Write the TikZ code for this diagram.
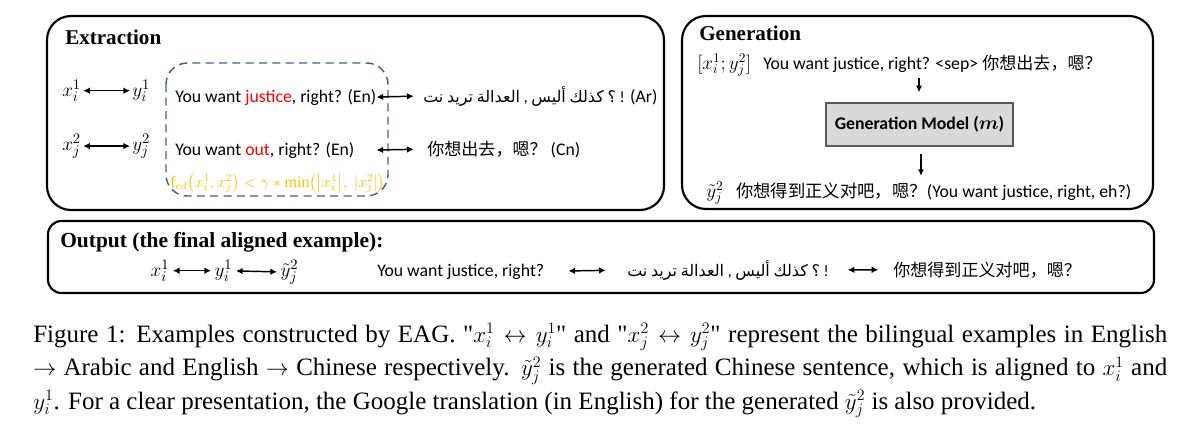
\documentclass[tikz,border=0pt]{standalone}
\usepackage{amsmath}
\usepackage{fontspec}
\setmainfont{Liberation Serif}
\newfontfamily\calib{Carlito}
\newfontfamily\cjk{Noto Sans CJK SC}
\newfontfamily\arab[Script=Arabic]{DejaVu Sans}
\usetikzlibrary{arrows.meta}
\TeXXeTstate=1
\newcommand\arw[1]{{\arab\beginR #1\endR}}
\newcommand\dq{\textquotedbl}
\definecolor{dashblue}{RGB}{68,95,150}
\definecolor{fgold}{RGB}{255,192,0}
\definecolor{boxgray}{RGB}{217,217,217}
\begin{document}
\begin{tikzpicture}[x=0.75pt,y=-0.75pt,
  frame/.style={draw=black, line width=1.6pt, rounded corners=18pt},
  title/.style={anchor=base west, inner sep=0pt, font=\fontsize{15.8}{18}\selectfont\bfseries},
  txt/.style={anchor=base west, inner sep=0pt, font=\fontsize{13.3}{16}\selectfont\calib},
  mth/.style={anchor=base west, inner sep=1.5pt, font=\fontsize{15}{18}\selectfont},
  captext/.style={anchor=base west, inner sep=0pt, font=\fontsize{18.75}{22}\selectfont},
  biarrow/.style={{Latex[length=5pt,width=5pt]}-{Latex[length=5pt,width=5pt]}, line width=1.1pt},
  darrow/.style={-{Latex[length=5pt,width=4.5pt]}, line width=1.1pt}]
\useasboundingbox (0,0) rectangle (1203,425);

% ---------------- Extraction ----------------
\draw[frame] (47,16) rectangle (664,210);
\node[title] (extt) at (65,44) {Extraction};
\node[mth] (xi1) at (60,96) {$x_i^1$};
\node[mth] (yi1) at (130,96) {$y_i^1$};
\node[mth] (xj2) at (60,150) {$x_j^2$};
\node[mth] (yj2) at (130,150) {$y_j^2$};
\draw[biarrow] (xi1) -- (yi1);
\draw[biarrow] (xj2) -- (yj2);
\draw[dashblue, line width=1.1pt, dash pattern=on 6pt off 4pt, rounded corners=16pt] (166,63) rectangle (388,196);
\node[txt] (en1) at (175,102) {You want \textcolor{red}{justice}, right? (En)};
\node[txt] (en2) at (175,155) {You want \textcolor{red}{out}, right? (En)};
\node[anchor=base west, inner sep=0pt, text=fgold, font=\fontsize{12}{14}\selectfont] (fed) at (170,187) {$\mathrm{f}_{ed}\bigl(x_i^1, x_j^2\bigr) < \gamma * \min\bigl(\bigl|x_i^1\bigr|,\ |x_j^2|\bigr)$};
\node[txt] (ar1) at (423,102) {{\fontsize{12}{14}\selectfont\arw{نت} \arw{تريد} \arw{العدالة} , \arw{أليس} \arw{كذلك} \arw{؟} !} (Ar)};
\node[txt] (cn1) at (427,155) {{\cjk\fontsize{12.8}{15}\selectfont 你想出去，嗯？} (Cn)};
\draw[biarrow, shorten >=7pt] (en1.east) -- (ar1.west);
\draw[biarrow, shorten >=10pt] (en2.east -| en1.east) -- (cn1.west);

% ---------------- Generation ----------------
\draw[frame] (682,16) rectangle (1153,209);
\node[title] (gent) at (699,40) {Generation};
\node[mth, inner sep=0pt, font=\fontsize{14}{16}\selectfont] (gin) at (697,69) {$[x_i^1; y_j^2]$};
\node[txt] (gtxt) at (763,69) {You want justice, right? <sep> {\cjk\fontsize{12.8}{15}\selectfont 你想出去，嗯？}};
\node[draw=black!65, fill=boxgray, line width=0.9pt, minimum width=187*0.75pt, minimum height=43*0.75pt, inner sep=0pt, font=\fontsize{13.3}{16}\selectfont\calib\bfseries] (gm) at (919.5,124.5) {Generation Model ($\boldsymbol{m}$)};
\coordinate (a1) at (919,78);
\coordinate (a2) at (921,176);
\draw[darrow, shorten >=7.5pt] (a1) -- (a1 |- gm.north);
\draw[darrow, shorten <=5.5pt] (a2 |- gm.south) -- (a2);
\node[mth, inner sep=0pt, font=\fontsize{14}{16}\selectfont] (gyt) at (706,197) {$\tilde{y}_j^2$};
\node[txt] (gout) at (736,197) {{\cjk\fontsize{13}{15}\selectfont 你想得到正义对吧，嗯？}(You want justice, right, eh?)};

% ---------------- Output ----------------
\draw[frame, rounded corners=10pt] (48,221) rectangle (1154,293);
\node[title, font=\fontsize{16.1}{18}\selectfont\bfseries] (outt) at (60,247) {Output (the final aligned example):};
\node[mth, inner sep=2.5pt] (ox) at (147,276) {$x_i^1$};
\node[mth, inner sep=2.5pt] (oy) at (211,276) {$y_i^1$};
\node[mth, inner sep=2.5pt] (oyt) at (277,276) {$\tilde{y}_j^2$};
\draw[biarrow] (ox) -- (oy);
\draw[biarrow] (oy) -- (oyt);
\node[txt] (oen) at (377,276) {You want justice, right?};
\node[txt] (oar) at (627,276) {{\fontsize{12}{14}\selectfont\arw{نت} \arw{تريد} \arw{العدالة} , \arw{أليس} \arw{كذلك} \arw{؟} !}};
\node[txt] (ocn) at (893,276) {{\cjk\fontsize{12.8}{15}\selectfont 你想得到正义对吧，嗯？}};
\draw[biarrow, shorten <=18pt, shorten >=16pt] (oen.east) -- (oar.west);
\draw[biarrow, shorten <=14pt, shorten >=11pt] (oar.east) -- (ocn.west);

% ---------------- Caption ----------------
\node[captext] (cap1) at (33,342) {\makebox[850.5pt][s]{Figure 1: Examples constructed by EAG. \dq$x_i^1 \leftrightarrow y_i^1$\dq{} and \dq$x_j^2 \leftrightarrow y_j^2$\dq{} represent the bilingual examples in English}};
\node[captext] (cap2) at (33,375.5) {\makebox[850.5pt][s]{$\rightarrow$ Arabic and English $\rightarrow$ Chinese respectively. $\tilde{y}_j^2$ is the generated Chinese sentence, which is aligned to $x_i^1$ and}};
\node[captext] (cap3) at (33,409) {$y_i^1$. For a clear presentation, the Google translation (in English) for the generated $\tilde{y}_j^2$ is also provided.};
\end{tikzpicture}
\end{document}
